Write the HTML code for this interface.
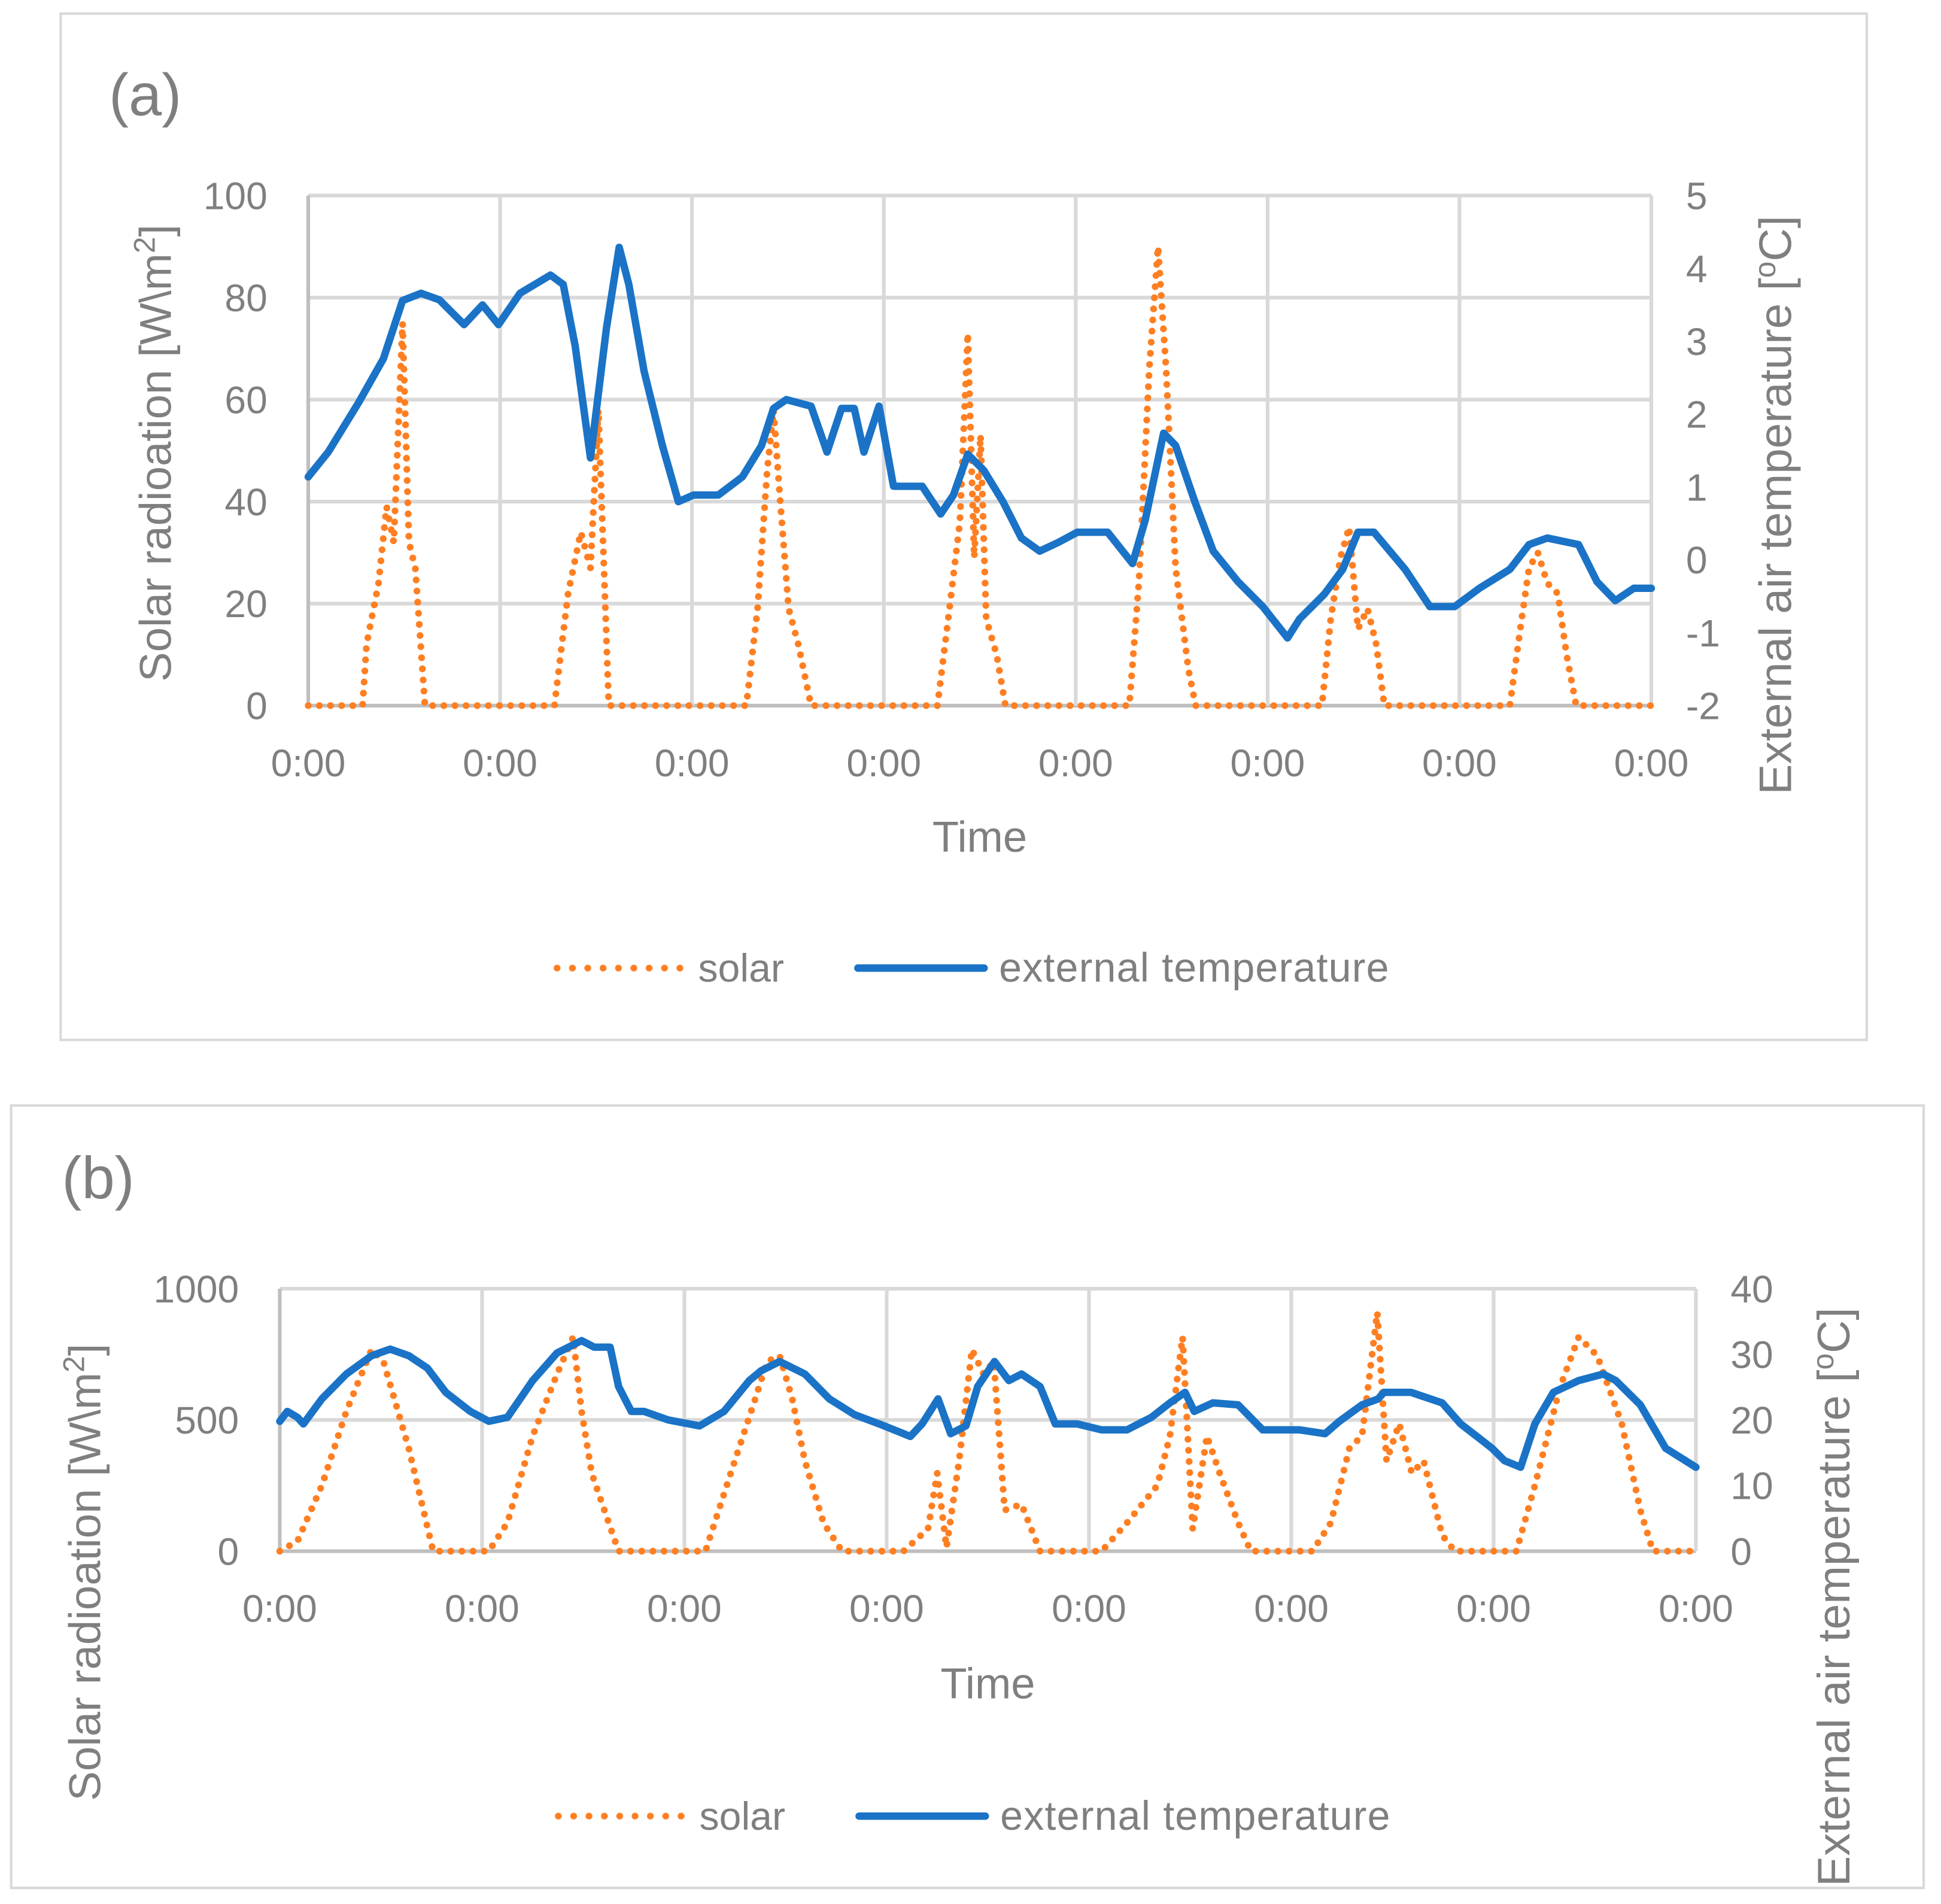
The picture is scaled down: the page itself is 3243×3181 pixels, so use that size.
<!DOCTYPE html>
<html><head><meta charset="utf-8"><style>
html,body{margin:0;padding:0;background:#fff;}
svg{display:block;font-family:"Liberation Sans",sans-serif;}
</style></head><body>
<svg id="c" width="3243" height="3181" viewBox="0 0 1568 1538" preserveAspectRatio="none" xmlns="http://www.w3.org/2000/svg">
<rect x="49" y="11" width="1459" height="829" fill="#fff" stroke="#d9d9d9" stroke-width="2"/>
<rect x="9" y="893" width="1545" height="632" fill="#fff" stroke="#d9d9d9" stroke-width="2"/>
<text x="88" y="93" font-size="48" fill="#7f7f7f">(a)</text>
<text x="50" y="968" font-size="48" fill="#7f7f7f">(b)</text>
<g id="ga"></g>
<g id="gb"></g>
</svg>
<script>
// Chart (a) data
const aTempHours=[0,2.5,6.3,9.4,11.8,14.1,16.4,19.5,21.8,23.8,26.5,30.3,31.9,33.4,35.3,37.3,38.9,40.1,42,44.3,46.3,48.2,51.3,54.3,56.7,58.2,59.8,62.9,64.9,66.7,68.3,69.5,71.4,73.2,76.8,79.1,80.7,82.5,84.5,86.9,89.2,91.5,93.8,96.2,100,103.1,104.7,107,108.5,110.9,113.2,116.3,119.4,122.5,124,127.1,129.4,131.3,133.3,137.2,140.3,143.4,146.5,150.3,152.7,155,158.9,161.2,163.5,165.8,168];
const aTempValues=[1.14,1.48,2.16,2.76,3.56,3.66,3.57,3.23,3.5,3.23,3.66,3.91,3.78,2.93,1.4,3.18,4.29,3.78,2.59,1.57,0.8,0.89,0.89,1.14,1.57,2.08,2.2,2.11,1.48,2.08,2.08,1.48,2.11,1.01,1.01,0.63,0.89,1.45,1.23,0.8,0.3,0.12,0.24,0.38,0.38,-0.05,0.55,1.74,1.57,0.8,0.12,-0.3,-0.64,-1.07,-0.81,-0.47,-0.13,0.38,0.38,-0.13,-0.64,-0.64,-0.39,-0.13,0.21,0.3,0.21,-0.3,-0.56,-0.39,-0.39];
const aSolarHours=[0,6.8,7.3,8.8,9.8,10.7,11.8,12.6,13.4,14.6,30.8,32.5,34.1,35.3,36.3,37.6,54.8,56.2,57.4,58.2,59,60.1,61.3,62.9,78.7,80.2,81.5,82.5,83.3,84.1,84.8,86.1,87.2,102.7,103.9,105.2,106.3,107.3,108.5,110.1,111,126.8,127.9,129.1,130.2,131.3,132.5,133.6,134.6,150.3,151.6,152.7,153.8,155,156.3,157.4,158.6,168];
const aSolarValues=[0,0,12,24,39,32,75,32,27,0,0,22,34,27,58,0,0,19,46,58,41,19,12,0,0,19,36,73,29,53,17,10,0,0,24,66,90,66,27,7,0,0,17,29,35,15,19,12,0,0,15,27,30,24,22,10,0,0];
const aLeftTicks=[0,20,40,60,80,100];
const aRightTicks=[-2,-1,0,1,2,3,4,5];
const aXTickLabels=["0:00","0:00","0:00","0:00","0:00","0:00","0:00","0:00"];
// Chart (b) data
const bTempHours=[0,0.9,2.1,2.8,5,7.9,10.9,13.1,15.3,17.5,19.7,22.6,24.8,27,30,32.9,35.8,37.3,39.2,40.2,41.7,43.2,46.1,49.8,52.7,55.7,57.1,59.3,62.3,65.2,68.2,71.1,74.8,76.2,78.1,79.6,81.4,82.8,84.8,86.5,88,90.2,92,94.6,97.5,100.5,103.4,105.6,107.4,108.5,110.7,113.7,116.6,121,124,125.7,128.4,130.3,131,134.2,137.9,140.1,142.3,143.8,145.3,147.2,148.9,151.1,154.1,157,158.5,161.4,164.4,168];
const bTempValues=[19.8,21.3,20.4,19.4,23.2,27,29.8,30.8,29.8,27.9,24.2,21.3,19.8,20.4,26,30.2,32.1,31.1,31.1,25.1,21.3,21.3,20,19.1,21.3,26,27.5,28.9,27,23.2,20.8,19.4,17.5,19.4,23.2,17.9,19.1,25.1,28.9,26,27,25.1,19.4,19.4,18.5,18.5,20.4,22.6,24.2,21.3,22.6,22.3,18.5,18.5,17.9,19.8,22.3,23.2,24.2,24.2,22.6,19.4,17.2,15.7,13.8,12.8,19.4,24.2,26,27,26,22.3,15.7,12.8];
const bSolarHours=[0,2.1,5,7.9,10.9,12.3,15.3,18.2,24.8,27,30,32.9,34.8,35.8,37,38,40.2,50.5,53.5,56.4,57.8,59.3,60.8,62.3,64.5,66.7,74,76.9,78,79.1,80.6,82.1,83.5,84.7,86,88,90.2,97.5,100.5,104.1,105.6,107.1,108.3,110,111.5,113.7,115.2,122.5,124.7,126.9,128.4,130.2,131.3,132.8,134.3,135.7,137.9,139.4,146.7,148.9,151.9,154.1,156.3,159.2,161.4,162.9,168];
const bSolarValues=[0,38,250,533,769,722,392,0,0,108,439,675,816,533,297,203,0,0,297,580,722,745,580,344,108,0,0,85,297,14,344,769,675,722,156,179,0,0,108,250,439,816,85,439,297,108,0,0,108,392,439,910,344,486,297,344,61,0,0,250,627,816,745,486,156,0,0];
const bLeftTicks=[0,500,1000];
const bRightTicks=[0,10,20,30,40];
const bXTickLabels=["0:00","0:00","0:00","0:00","0:00","0:00","0:00","0:00"];

const NS="http://www.w3.org/2000/svg";
function mk(parent,tag,attrs){const e=document.createElementNS(NS,tag);for(const k in attrs)e.setAttribute(k,attrs[k]);parent.appendChild(e);return e;}
function draw(g,cfg){
  const xs=h=>cfg.x0+(cfg.x1-cfg.x0)*h/168;
  const yl=v=>cfg.y0-(cfg.y0-cfg.y1)*(v-cfg.lmin)/(cfg.lmax-cfg.lmin);
  const yr=v=>cfg.y0-(cfg.y0-cfg.y1)*(v-cfg.rmin)/(cfg.rmax-cfg.rmin);
  cfg.lt.forEach(v=>{
    const l=mk(g,'line',{x1:cfg.x0,x2:cfg.x1,y1:yl(v),y2:yl(v),stroke:v===cfg.lmin?'#bfbfbf':'#d9d9d9','stroke-width':3});
    
    
    const t=mk(g,'text',{x:cfg.x0-33,y:yl(v)+11,'font-size':31,fill:'#7f7f7f','text-anchor':'end'});t.textContent=v;
    
    
  });
  cfg.rt.forEach(v=>{
    const t=mk(g,'text',{x:cfg.x1+28,y:yr(v)+11,'font-size':31,fill:'#7f7f7f','text-anchor':'start'});t.textContent=v;
    
    
  });
  cfg.xl.forEach((s,i)=>{
    const x=xs(i*24);
    const l=mk(g,'line',{x1:x,x2:x,y1:cfg.y1,y2:cfg.y0,stroke:i===0?'#bfbfbf':'#d9d9d9','stroke-width':3});
    
    
    const t=mk(g,'text',{x:x,y:cfg.y0+57,'font-size':31,fill:'#7f7f7f','text-anchor':'middle'});t.textContent=s;
    
    
  });
  const sp=cfg.sh.map((h,i)=>xs(h).toFixed(1)+','+yl(cfg.sv[i]).toFixed(1)).join(' ');
  const s=mk(g,'polyline',{points:sp,fill:'none',stroke:'#fe7f22','stroke-width':5.5,'stroke-linecap':'round','stroke-dasharray':'0 9'});
  
  
  const tp=cfg.th.map((h,i)=>xs(h).toFixed(1)+','+yr(cfg.tv[i]).toFixed(1)).join(' ');
  const t=mk(g,'polyline',{points:tp,fill:'none',stroke:'#1a73c6','stroke-width':6,'stroke-linejoin':'round','stroke-linecap':'round'});
  
  
  const xt=mk(g,'text',{x:(cfg.x0+cfg.x1)/2,y:cfg.xty,'font-size':35,fill:'#7f7f7f','text-anchor':'middle'});xt.textContent='Time';
  
  
  const lt=mk(g,'text',{transform:`translate(${cfg.lx},${cfg.ly}) rotate(-90)`,'font-size':36,fill:'#7f7f7f','text-anchor':'middle'});
  lt.innerHTML='Solar radioation [W\\m<tspan dy="-13" font-size="24">2</tspan><tspan dy="13">]</tspan>';
  
  
  const rtt=mk(g,'text',{transform:`translate(${cfg.rx},${cfg.ry}) rotate(-90)`,'font-size':37,fill:'#7f7f7f','text-anchor':'middle'});
  rtt.innerHTML='External air temperature [<tspan dy="-13" font-size="24">o</tspan><tspan dy="13">C]</tspan>';
  
  
  const L=cfg.legY;
  const l1=mk(g,'line',{x1:cfg.legX,x2:cfg.legX+100,y1:L,y2:L,stroke:'#fe7f22','stroke-width':5.5,'stroke-linecap':'round','stroke-dasharray':'0 12.4'});
  
  
  const lt1=mk(g,'text',{x:cfg.legX+114,y:L+11,'font-size':32,fill:'#7f7f7f'});lt1.textContent='solar';
  
  
  const l2=mk(g,'line',{x1:cfg.legX+243,x2:cfg.legX+345,y1:L,y2:L,stroke:'#1a73c6','stroke-width':6,'stroke-linecap':'round'});
  
  
  const lt2=mk(g,'text',{x:cfg.legX+357,y:L+11,'font-size':33,fill:'#7f7f7f',textLength:315});lt2.textContent='external temperature';
  
  
}
draw(document.getElementById('ga'),{x0:249,x1:1334,y0:570,y1:158,lmin:0,lmax:100,rmin:-2,rmax:5,lt:aLeftTicks,rt:aRightTicks,xl:aXTickLabels,sh:aSolarHours,sv:aSolarValues,th:aTempHours,tv:aTempValues,xty:688,lx:138,ly:366,rx:1447,ry:408,legX:450,legY:782});
draw(document.getElementById('gb'),{x0:226,x1:1370,y0:1253,y1:1041,lmin:0,lmax:1000,rmin:0,rmax:40,lt:bLeftTicks,rt:bRightTicks,xl:bXTickLabels,sh:bSolarHours,sv:bSolarValues,th:bTempHours,tv:bTempValues,xty:1372,lx:81,ly:1270,rx:1494,ry:1290,legX:451,legY:1467});
</script>
</body></html>
